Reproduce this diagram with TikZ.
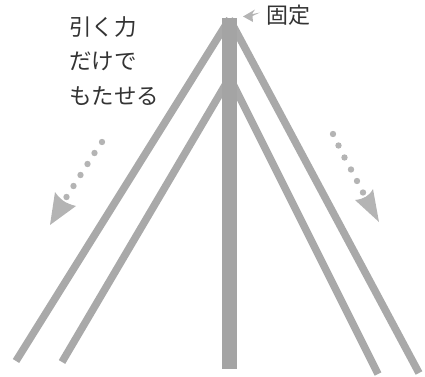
\documentclass[tikz,border=0pt]{standalone}
\usepackage{fontspec}
\newfontfamily\jpfont{Noto Sans CJK JP}
\definecolor{bar}{HTML}{A9A9A9}
\definecolor{cbar}{HTML}{A4A4A4}
\definecolor{arr}{HTML}{B4B4B4}
\definecolor{txt}{HTML}{333333}
\tikzset{
  leg/.style={draw=bar, line width=7.5bp, line cap=butt},
  centerbar/.style={draw=cbar, line width=14.5bp, line cap=butt},
  dotmark/.style={fill=arr, draw=none},
  dart/.style={fill=arr, draw=none},
  lbl/.style={font=\jpfont\fontsize{22.5bp}{26bp}\selectfont, text=txt, inner sep=0pt, anchor=west},
  lblb/.style={font=\jpfont\fontsize{22bp}{26bp}\selectfont, text=txt, inner sep=0pt, anchor=west}
}
\begin{document}
\begin{tikzpicture}[x=1bp,y=-1bp]
\useasboundingbox (0,0) rectangle (425,377);
% coordinates
\coordinate (top) at (229.5,19);
\coordinate (olb) at (16,361);
\coordinate (orb) at (419,373);
\coordinate (ilt) at (227,82);
\coordinate (irt) at (232,82);
\coordinate (ilb) at (62,362);
\coordinate (irb) at (378,374);
\coordinate (cbt) at (229.5,18);
\coordinate (cbb) at (229.5,369);
% legs
\draw[leg] (top) -- (olb);
\draw[leg] (top) -- (orb);
\draw[leg] (ilt) -- (ilb);
\draw[leg] (irt) -- (irb);
% centre bar
\draw[centerbar] (cbt) -- (cbb);
% left dotted arrow
\foreach \p in {(102,142),(94.5,153),(87.5,164),(80.5,175),(73.5,186),(66.5,197)}
  \fill[dotmark] \p circle (3.2bp);
\fill[dart] (50,225) -- (55,192) .. controls (60,199) and (64,203) .. (76,206) -- cycle;
% right dotted arrow
\foreach \p in {(333,134),(338.5,145.5),(344.5,157.5),(351,169.5),(357,181),(363,192.5)}
  \fill[dotmark] \p circle (3.2bp);
\fill[dart] (379,222) -- (355,200) .. controls (364,199) and (369,196) .. (373,189) -- cycle;
% fixed arrow
\coordinate (fa) at (260,12.5);
\coordinate (fb) at (243,16.5);
\fill[dart] (fb) -- (255,9.5) -- (252,14.2) -- (fa) -- (252.5,16) -- (253,22) -- cycle;
% labels
\node[lblb] (fix) at (266,15) {固定};
\node[lbl] (t1) at (69,27.5) {引く力};
\node[lbl] (t2) at (69,61.5) {だけで};
\node[lbl] (t3) at (69,96.5) {もたせる};
\end{tikzpicture}
\end{document}
